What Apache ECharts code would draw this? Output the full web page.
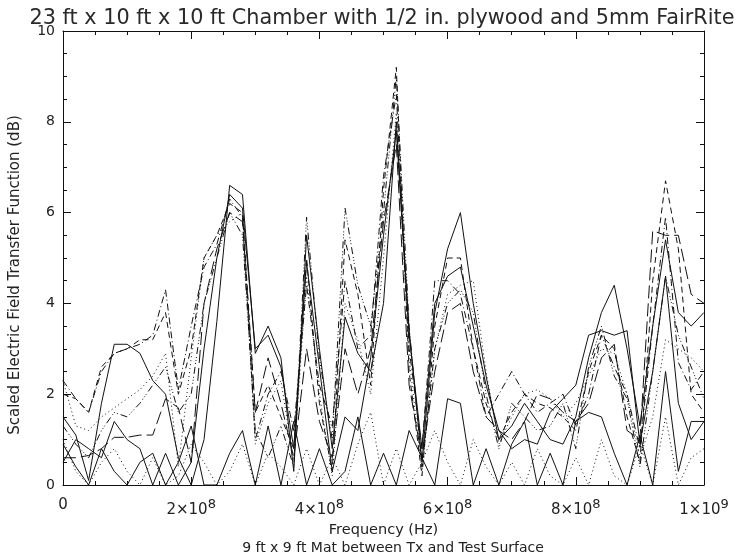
<!DOCTYPE html>
<html>
<head>
<meta charset="utf-8">
<script src="https://cdn.jsdelivr.net/npm/echarts@6/dist/echarts.min.js"></script>
<style>html,body{margin:0;padding:0;background:#fff;}#c{width:742px;height:557px;}</style>
</head>
<body>
<div id="c"></div>
<script>
// Frequency samples (MHz)
const freqMHz = [0,20,40,60,80,100,120,140,160,180,200,220,240,260,280,300,320,340,360,380,400,420,440,460,480,500,520,540,560,580,600,620,640,660,680,700,720,740,760,780,800,820,840,860,880,900,920,940,960,980,1000];

// Series values (dB)
const solidA = [1.5,1.1,0.1,1.8,3.1,3.1,2.9,2.3,2.0,0.6,0.0,1.0,3.6,6.6,6.4,2.9,3.5,2.8,0.3,5.5,3.0,0.8,3.7,2.9,2.5,4.0,8.0,3.4,0.5,3.8,5.2,6.0,4.0,2.4,1.0,1.3,1.8,1.4,1.0,0.9,1.5,2.8,3.8,4.4,3.0,1.3,3.5,5.4,3.8,3.5,3.8];
const dottedB = [2.3,1.3,1.2,1.5,1.7,1.9,2.1,2.4,2.9,0.4,2.8,5.0,5.5,5.8,6.0,0.9,1.8,2.3,0.5,4.6,2.0,0.2,4.0,3.2,2.0,5.0,8.2,2.8,0.3,3.0,4.2,4.4,4.5,2.5,0.9,1.5,2.0,2.1,1.9,1.5,1.8,2.4,3.0,2.9,2.0,0.6,1.5,3.2,3.0,2.8,2.5];
const dashedC = [2.0,1.9,1.6,2.6,2.9,3.0,3.2,3.2,3.8,2.0,3.0,5.0,5.5,6.2,6.0,1.6,2.2,1.5,0.8,5.0,1.8,0.3,5.4,4.2,2.2,6.5,9.2,2.5,0.2,3.5,5.0,5.0,3.0,1.8,1.0,1.6,2.0,1.8,1.7,1.5,1.2,2.5,3.3,3.0,1.5,0.5,4.5,6.7,5.2,2.0,1.6];
const dashDotD = [2.3,1.9,1.6,2.5,2.9,3.0,3.1,3.3,4.3,2.1,3.5,4.8,5.3,6.3,5.9,1.0,2.0,2.5,1.2,4.4,2.2,1.3,4.5,3.0,3.3,6.8,8.6,3.0,0.8,4.5,4.5,4.2,3.0,1.5,2.0,2.5,2.0,1.6,1.8,2.0,1.3,2.0,3.3,2.6,2.0,0.8,3.5,5.9,2.7,2.1,2.5];
const dashDot3E = [1.3,0.9,0.6,1.2,1.6,1.5,1.8,2.2,2.6,1.6,2.0,4.0,5.0,6.0,5.5,1.2,0.6,1.3,0.4,5.9,2.8,1.0,6.1,4.4,3.5,6.0,9.0,3.5,0.4,3.0,4.0,4.3,3.8,2.0,0.8,1.8,1.5,1.2,1.3,1.8,0.8,2.6,3.5,2.4,1.9,0.4,2.5,4.6,3.3,2.6,1.9];
const longDashF = [0.6,0.6,0.65,0.8,1.05,1.05,1.1,1.1,1.9,1.7,0.5,4.0,5.2,6.0,5.8,1.6,2.8,1.8,0.6,3.0,1.4,0.6,3.0,2.0,3.0,5.8,7.5,2.2,0.6,2.5,3.8,4.0,2.5,1.5,1.2,1.0,1.4,2.0,1.9,1.6,1.4,1.8,2.8,3.1,1.2,1.0,5.6,5.5,5.5,4.2,4.0];
const solidG = [0.5,1.0,0.8,0.6,1.4,1.0,0.8,0.0,0.7,0.0,0.5,3.0,5.0,6.4,6.1,3.0,3.3,2.6,0.8,4.9,2.6,0.3,1.5,1.2,2.8,5.5,7.8,3.3,0.8,4.0,4.6,4.8,3.5,2.2,1.2,0.8,1.0,0.9,1.6,1.9,2.2,3.3,3.4,3.3,3.4,0.9,2.5,4.6,1.8,1.0,1.4];
const solidLowH = [0.9,0.4,0.0,0.8,0.3,0.0,0.5,0.7,0.0,0.5,1.3,0.0,0.0,0.7,1.2,0.0,1.3,0.0,1.4,0.0,0.8,0.0,0.3,1.5,0.0,0.7,0.0,1.2,0.6,0.0,1.9,1.8,0.0,0.8,0.0,0.9,1.4,0.0,0.7,0.0,1.4,1.6,1.5,0.7,0.0,1.1,0.0,2.5,0.3,1.4,1.4];
const dottedLowI = [1.0,0.3,0.0,0.5,0.8,0.3,0.0,0.6,0.0,0.2,0.9,0.5,0.0,0.3,0.9,0.0,0.7,0.4,0.0,0.8,0.0,0.6,0.0,0.9,1.6,0.0,0.8,0.0,0.5,1.2,0.5,0.0,1.0,0.4,0.0,0.5,0.0,0.8,0.2,0.0,0.6,0.0,1.0,0.2,0.0,0.9,0.0,1.5,0.0,0.6,0.8];

const xTicks = [0, 2e8, 4e8, 6e8, 8e8, 1e9];
const yTicks = [0, 2, 4, 6, 8, 10];

const seriesDefs = [
  {name:'A', data: solidA, dash: 'solid'},
  {name:'B', data: dottedB, dash: [1,3]},
  {name:'C', data: dashedC, dash: [6,4]},
  {name:'D', data: dashDotD, dash: [7,3,1,3]},
  {name:'E', data: dashDot3E, dash: [7,3,1,2,1,2,1,3]},
  {name:'F', data: longDashF, dash: [13,5]},
  {name:'G', data: solidG, dash: 'solid'},
  {name:'H', data: solidLowH, dash: 'solid'},
  {name:'I', data: dottedLowI, dash: [1,3]}
];

const FONT = 'DejaVu Sans';
const chart = echarts.init(document.getElementById('c'), null, {renderer:'canvas'});

function xLabel(v){
  if (v === 0) return '0';
  if (v >= 1e9) return '1×10{sup|9}';
  return (v/1e8) + '×10{sup|8}';
}

function axisCommon(){
  return {
    axisLine: {show:true, onZero:false, lineStyle:{color:'#111', width:1}},
    axisTick: {show:true, inside:true, length:8, lineStyle:{color:'#111', width:1}},
    minorTick: {show:true, splitNumber:4, length:4, lineStyle:{color:'#111', width:1}},
    splitLine: {show:false},
    minorSplitLine: {show:false}
  };
}

chart.setOption({
  animation:false,
  backgroundColor:'#fff',
  title: [
    {text:'23 ft x 10 ft x 10 ft Chamber with 1/2 in. plywood and 5mm FairRite', left:377, textAlign:'center', top:3,
     textStyle:{fontFamily:FONT, fontSize:20.8, fontWeight:'normal', color:'#2a2a2a'}},
    {text:'9 ft x 9 ft Mat between Tx and Test Surface', left:388, textAlign:'center', top:536,
     textStyle:{fontFamily:FONT, fontSize:14, fontWeight:'normal', color:'#222'}}
  ],
  grid:{left:62, right:38, top:31, bottom:72, containLabel:false},
  xAxis:[
    Object.assign(axisCommon(), {
      type:'value', min:0, max:1e9, interval:2e8, position:'bottom',
      name:'Frequency (Hz)', nameLocation:'middle', nameGap:34,
      nameTextStyle:{fontFamily:FONT, fontSize:14.5, color:'#222'},
      axisLabel:{margin:13, fontFamily:FONT, fontSize:15, color:'#222', formatter:xLabel,
        rich:{sup:{fontFamily:FONT, fontSize:13, color:'#222', verticalAlign:'bottom', padding:[0,0,12,0]}}}
    }),
    Object.assign(axisCommon(), {
      type:'value', min:0, max:1e9, interval:2e8, position:'top', axisLabel:{show:false}
    })
  ],
  yAxis:[
    Object.assign(axisCommon(), {
      type:'value', min:0, max:10, interval:2, position:'left',
      name:'Scaled Electric Field Transfer Function (dB)', nameLocation:'middle', nameGap:40,
      nameTextStyle:{fontFamily:FONT, fontSize:15, color:'#222', padding:[0,34,0,0]},
      axisLabel:{margin:8, fontFamily:FONT, fontSize:14, color:'#222'}
    }),
    Object.assign(axisCommon(), {
      type:'value', min:0, max:10, interval:2, position:'right', axisLabel:{show:false}
    })
  ],
  series: seriesDefs.map(s => ({
    name:s.name, type:'line', xAxisIndex:0, yAxisIndex:0,
    symbol:'none', showSymbol:false, silent:true,
    lineStyle:{color:'#111', width:1, type:s.dash},
    data: s.data.map((v,i) => [freqMHz[i]*1e6, v])
  }))
});
</script>
</body>
</html>
